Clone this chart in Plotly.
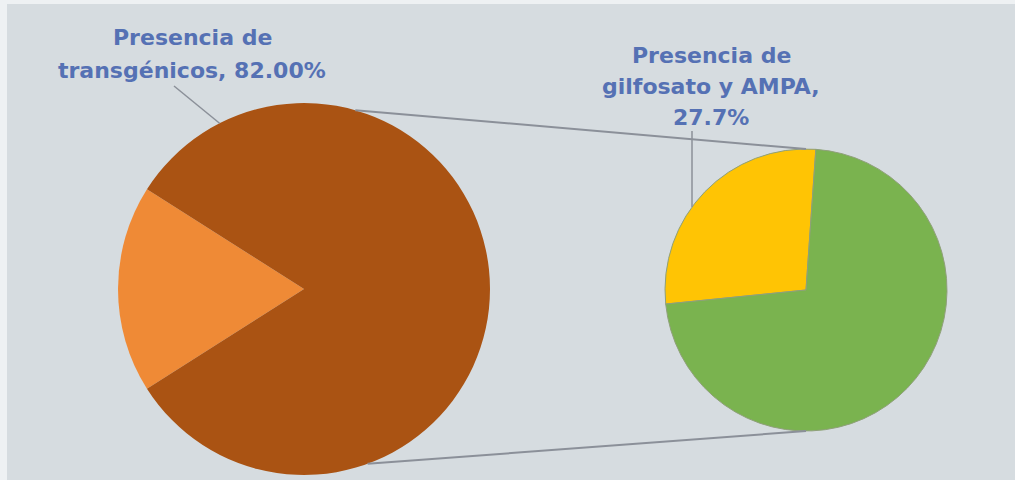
import math
import plotly.graph_objects as go

# Data
main_labels = ["Otros", "Presencia de transgénicos"]
main_values = [18.0, 82.0]
sub_labels = ["Presencia de glifosato y AMPA", "Sin glifosato ni AMPA"]
sub_values = [27.7, 72.3]

main_text_lines = ["Presencia de", "transgénicos, 82.00%"]
sub_text_lines = ["Presencia de", "gilfosato y AMPA,", "27.7%"]

W, H = 1015, 480

# Pie geometry in pixels (centre x, centre y from top, radius)
L_CX, L_CY, L_R = 304, 289, 186
R_CX, R_CY, R_R = 806, 290, 141

BG = "#d6dce0"
TXT = "#5571b4"
LINE = "#8b9099"


def px(x):
    return x / W


def py(y):
    return 1 - y / H


def on_circle(cx, cy, r, deg):
    a = math.radians(deg)
    return cx + r * math.sin(a), cy - r * math.cos(a)


def domain(cx, cy, r):
    return dict(x=[px(cx - r), px(cx + r)], y=[py(cy + r), py(cy - r)])


# the small slice is centred on 9 o'clock
small_span = 360 * main_values[0] / sum(main_values)
left_rotation = 270 - small_span / 2

# the highlighted slice of the second pie ends just right of 12 o'clock
sub_span = 360 * sub_values[0] / sum(sub_values)
right_rotation = 4 - sub_span

fig = go.Figure()
fig.add_trace(go.Pie(
    labels=main_labels, values=main_values, sort=False,
    direction="clockwise", rotation=left_rotation,
    marker=dict(colors=["#ef8a36", "#aa5313"], line=dict(width=0)),
    textinfo="none", hoverinfo="label+percent", showlegend=False,
    domain=domain(L_CX, L_CY, L_R),
))
fig.add_trace(go.Pie(
    labels=sub_labels, values=sub_values, sort=False,
    direction="clockwise", rotation=right_rotation,
    marker=dict(colors=["#ffc404", "#7ab34f"], line=dict(color="#8fa07a", width=1)),
    textinfo="none", hoverinfo="label+percent", showlegend=False,
    domain=domain(R_CX, R_CY, R_R),
))

shapes = []


def seg(p0, p1, color=LINE, width=2):
    shapes.append(dict(type="line", xref="paper", yref="paper",
                       x0=px(p0[0]), y0=py(p0[1]), x1=px(p1[0]), y1=py(p1[1]),
                       line=dict(color=color, width=width)))


# connector lines between the two pies
seg(on_circle(L_CX, L_CY, L_R, 16), on_circle(R_CX, R_CY, R_R, 0))
seg(on_circle(L_CX, L_CY, L_R, 160), on_circle(R_CX, R_CY, R_R, 180))

# leader lines for the data labels
seg((174, 86), on_circle(L_CX, L_CY, L_R, -27), width=1.5)
lx = 692
ly = R_CY - math.sqrt(R_R ** 2 - (R_CX - lx) ** 2)
seg((lx, 131), (lx, ly), width=1.5)

# light frame at the top and left edges
shapes.append(dict(type="rect", xref="paper", yref="paper", x0=0, x1=px(7), y0=0, y1=1,
                   fillcolor="#eef1f3", line=dict(width=0), layer="below"))
shapes.append(dict(type="rect", xref="paper", yref="paper", x0=0, x1=1, y0=py(4), y1=1,
                   fillcolor="#eef1f3", line=dict(width=0), layer="below"))

font = dict(family="DejaVu Sans", size=22, color=TXT, weight="bold")
annotations = []
for i, t in enumerate(main_text_lines):
    annotations.append(dict(text=t, x=px(192), y=py(37 + 33 * i), xref="paper", yref="paper",
                            showarrow=False, font=font, xanchor="center", yanchor="middle"))
for i, t in enumerate(sub_text_lines):
    annotations.append(dict(text=t, x=px(711), y=py(55 + 31 * i), xref="paper", yref="paper",
                            showarrow=False, font=font, xanchor="center", yanchor="middle"))

fig.update_layout(
    width=W, height=H,
    margin=dict(l=0, r=0, t=0, b=0),
    paper_bgcolor=BG, plot_bgcolor=BG,
    shapes=shapes,
    annotations=annotations,
)

fig.write_html("out.html")
